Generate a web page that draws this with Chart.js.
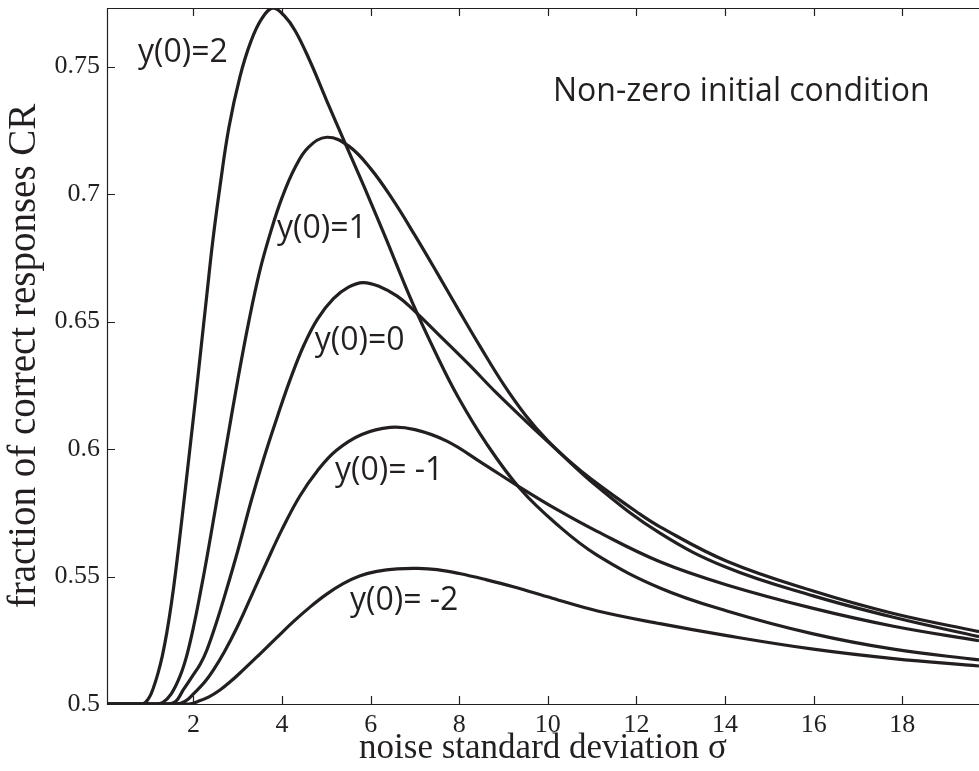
<!DOCTYPE html>
<html><head><meta charset="utf-8">
<style>html,body{margin:0;padding:0;background:#fff;}#c{display:block;}</style>
<script src="https://cdn.jsdelivr.net/npm/chart.js@4.4.0/dist/chart.umd.min.js"></script>
</head><body>
<canvas id="c" width="979" height="771"></canvas>
<script>
// y(0)=2
const sigmaA = [0.05, 0.85, 1.0, 1.1, 1.2, 1.3, 1.4, 1.5, 1.6, 1.75, 1.92, 2.05, 2.15, 2.3, 2.44, 2.6, 2.8, 3.05, 3.3, 3.55, 3.8, 4.05, 4.3, 4.63, 5.0, 5.46, 5.85, 6.3, 6.94, 7.5, 7.97, 8.6, 9.37, 10.2, 11.1, 12.53, 14.04, 15.99, 17.8, 19.73];
const crA    = [0.5, 0.5, 0.5025, 0.5065, 0.512, 0.519, 0.528, 0.539, 0.552, 0.574, 0.600, 0.620, 0.636, 0.660, 0.682, 0.703, 0.726, 0.746, 0.760, 0.769, 0.773, 0.770, 0.764, 0.7522, 0.737, 0.7185, 0.703, 0.6845, 0.6575, 0.6365, 0.6205, 0.6025, 0.5845, 0.5705, 0.5585, 0.5455, 0.5365, 0.5275, 0.5215, 0.5173];
// y(0)=1
const sigmaB = [0.05, 1.15, 1.3, 1.5, 1.7, 1.85, 2.0, 2.15, 2.3, 2.5, 2.73, 3.0, 3.25, 3.5, 3.75, 4.0, 4.3, 4.6, 5.01, 5.5, 6.0, 6.5, 7.0, 7.5, 8.0, 8.5, 9.0, 9.5, 10.0, 10.5, 11.0, 12.0, 12.53, 14.04, 15.99, 17.8, 19.73];
const crB    = [0.5, 0.5, 0.5005, 0.504, 0.511, 0.519, 0.530, 0.543, 0.557, 0.577, 0.600, 0.627, 0.650, 0.670, 0.6855, 0.6986, 0.7106, 0.7184, 0.7223, 0.7189, 0.7100, 0.6978, 0.6838, 0.6691, 0.6541, 0.6394, 0.6254, 0.6132, 0.6032, 0.5950, 0.5879, 0.5754, 0.5695, 0.5560, 0.5443, 0.5355, 0.5284];
// y(0)=0
const sigmaC = [0.05, 1.4, 1.6, 1.77, 2.0, 2.15, 2.3, 2.52, 2.75, 3.0, 3.31, 3.6, 3.9, 4.2, 4.5, 4.8, 5.16, 5.5, 5.83, 6.21, 6.6, 6.94, 7.5, 8.2, 8.84, 9.5, 10.12, 11.1, 12.53, 14.04, 15.99, 17.8, 19.73];
const crC    = [0.5, 0.5, 0.501, 0.5055, 0.5115, 0.5155, 0.521, 0.532, 0.545, 0.560, 0.580, 0.597, 0.613, 0.628, 0.641, 0.651, 0.659, 0.6635, 0.6653, 0.6637, 0.660, 0.655, 0.6455, 0.6335, 0.622, 0.611, 0.601, 0.5855, 0.567, 0.5535, 0.5424, 0.534, 0.5264];
// y(0)=-1
const sigmaD = [0.05, 1.6, 1.81, 2.03, 2.25, 2.45, 2.7, 2.97, 3.3, 3.65, 4.0, 4.4, 4.8, 5.23, 5.8, 6.44, 7.0, 7.72, 8.5, 9.37, 10.2, 11.1, 12.53, 14.04, 15.99, 17.8, 19.73];
const crD    = [0.5, 0.5, 0.501, 0.5045, 0.5085, 0.5133, 0.5205, 0.5295, 0.542, 0.5555, 0.5685, 0.5815, 0.5915, 0.5995, 0.6057, 0.6085, 0.6076, 0.6031, 0.5947, 0.585, 0.5763, 0.5678, 0.5558, 0.5467, 0.5375, 0.5305, 0.5248];
// y(0)=-2
const sigmaE = [0.05, 1.9, 2.1, 2.35, 2.6, 2.85, 3.12, 3.5, 3.88, 4.25, 4.63, 5.0, 5.38, 5.75, 6.14, 6.6, 7.07, 7.5, 8.0, 8.6, 9.22, 10.1, 11.1, 12.53, 14.04, 15.99, 17.8, 19.73];
const crE    = [0.5, 0.5, 0.501, 0.5028, 0.5055, 0.509, 0.5133, 0.5196, 0.526, 0.5322, 0.538, 0.543, 0.5472, 0.5502, 0.552, 0.553, 0.5532, 0.5527, 0.5512, 0.5488, 0.546, 0.5415, 0.5366, 0.5315, 0.5268, 0.5215, 0.5178, 0.5149];

const curveLabels = ['y(0)=2', 'y(0)=1', 'y(0)=0', 'y(0)= -1', 'y(0)= -2'];
const panelNote = 'Non-zero initial condition';
const xTicks = [2, 4, 6, 8, 10, 12, 14, 16, 18];
const yTicks = [0.5, 0.55, 0.6, 0.65, 0.7, 0.75];

const INK = '#231f20';
const series = [[sigmaA, crA], [sigmaB, crB], [sigmaC, crC], [sigmaD, crD], [sigmaE, crE]];

const framePlugin = {
  id: 'frame',
  afterDraw(chart, args, opts) {
    const {ctx, chartArea: a, scales: {x, y}} = chart;
    ctx.save();
    ctx.strokeStyle = INK;
    ctx.lineWidth = 1.2;
    ctx.beginPath();
    ctx.moveTo(a.right + 2, a.top + 0.5); ctx.lineTo(a.left + 0.5, a.top + 0.5);
    ctx.lineTo(a.left + 0.5, a.bottom + 0.5); ctx.lineTo(a.right + 2, a.bottom + 0.5);
    const tl = 8;
    xTicks.forEach(v => {
      const px = Math.round(x.getPixelForValue(v)) + 0.5;
      ctx.moveTo(px, a.bottom); ctx.lineTo(px, a.bottom - tl);
      ctx.moveTo(px, a.top); ctx.lineTo(px, a.top + tl);
    });
    yTicks.forEach(v => {
      const py = Math.round(y.getPixelForValue(v)) + 0.5;
      ctx.moveTo(a.left, py); ctx.lineTo(a.left + tl, py);
    });
    ctx.stroke();
    ctx.fillStyle = INK;
    ctx.textBaseline = 'alphabetic';
    ctx.textAlign = 'left';
    (opts.items || []).forEach(it => {
      ctx.font = it.size + 'px "Open Sans", sans-serif';
      ctx.fillText(it.text, x.getPixelForValue(it.x), y.getPixelForValue(it.y));
    });
    ctx.restore();
  }
};

new Chart(document.getElementById('c'), {
  type: 'line',
  data: {
    datasets: series.map((s, k) => ({
      label: curveLabels[k],
      data: s[0].map((v, i) => ({x: v, y: s[1][i]})),
      borderColor: INK,
      borderWidth: 3.2,
      pointRadius: 0,
      fill: false,
      tension: 0.4
    }))
  },
  options: {
    responsive: false,
    animation: false,
    devicePixelRatio: 1,
    layout: {padding: {left: 0, right: 0, top: 8, bottom: 0}},
    plugins: {
      legend: {display: false},
      tooltip: {enabled: false},
      frame: {
        items: [
          {text: curveLabels[0], x: 0.75, y: 0.7519, size: 32},
          {text: curveLabels[1], x: 3.885, y: 0.6828, size: 32},
          {text: curveLabels[2], x: 4.74, y: 0.6389, size: 32},
          {text: curveLabels[3], x: 5.194, y: 0.5879, size: 32},
          {text: curveLabels[4], x: 5.533, y: 0.5369, size: 32},
          {text: panelNote, x: 10.115, y: 0.7366, size: 32}
        ]
      }
    },
    scales: {
      x: {
        type: 'linear', min: 0.05, max: 19.73,
        afterBuildTicks: s => { s.ticks = xTicks.map(v => ({value: v})); },
        afterFit: s => { s.height = 67; s.paddingLeft = 0; s.paddingRight = 0; s.paddingTop = 0; s.paddingBottom = 0; },
        grid: {display: false, drawTicks: false},
        border: {display: false},
        ticks: {font: {family: '"Liberation Serif", serif', size: 26}, color: INK, padding: 6, maxRotation: 0},
        title: {display: true, text: 'noise standard deviation σ', font: {family: '"Liberation Serif", serif', size: 35}, color: INK, padding: {top: 0, bottom: 1}}
      },
      y: {
        type: 'linear', min: 0.5, max: 0.773,
        afterBuildTicks: s => { s.ticks = yTicks.map(v => ({value: v})); },
        afterFit: s => { s.width = 107; s.paddingLeft = 0; s.paddingRight = 0; s.paddingTop = 0; s.paddingBottom = 0; },
        grid: {display: false, drawTicks: false},
        border: {display: false},
        ticks: {font: {family: '"Liberation Serif", serif', size: 26}, color: INK, padding: 7,
                callback: v => String(Number(v.toFixed(2)))},
        title: {display: true, text: 'fraction of correct responses CR', font: {family: '"Liberation Serif", serif', size: 39}, color: INK, padding: {top: 1, bottom: 0}}
      }
    }
  },
  plugins: [framePlugin]
});
</script>
</body></html>
